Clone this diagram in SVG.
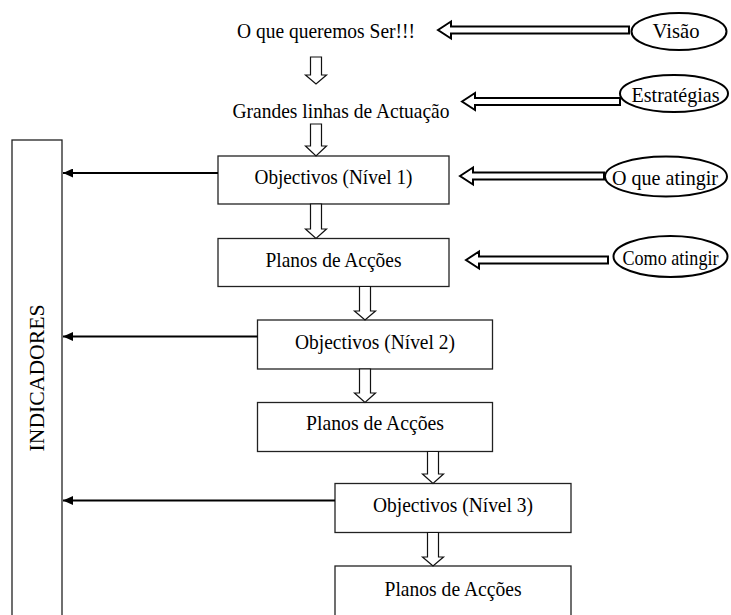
<svg xmlns="http://www.w3.org/2000/svg" width="731" height="615" viewBox="0 0 731 615">
  <defs>
    <style>
      .lbl { font-family: "Liberation Serif", "Times New Roman", serif; font-size: 22px; fill: #000; text-anchor: middle; }
      .small { font-size: 21px; }
      .box { fill: #fff; stroke: #222; stroke-width: 1.3; }
      .oval { fill: #fff; stroke: #000; stroke-width: 2; }
      .hollow-down { fill: #fff; stroke: #111; stroke-width: 1.2; stroke-linejoin: miter; }
      .hollow-left { fill: #fff; stroke: #000; stroke-width: 2; stroke-linejoin: miter; }
      .feed { fill: none; stroke: #000; stroke-width: 2; }
    </style>
    <marker id="solid-head" viewBox="0 0 10 9" markerWidth="10" markerHeight="9" markerUnits="userSpaceOnUse" refX="10" refY="4.5" orient="auto">
      <path d="M0,0 L10,4.5 L0,9 Z" fill="#000"/>
    </marker>
  </defs>

  <rect width="731" height="615" fill="#fff"/>

  <!-- side column collecting the indicators -->
  <g id="indicadores">
    <rect class="box" x="12" y="140" width="50" height="490"/>
    <text class="lbl" transform="translate(43.5,378) rotate(-90)" textLength="147" lengthAdjust="spacingAndGlyphs">INDICADORES</text>
  </g>

  <!-- top statements -->
  <g id="ser">
    <text class="lbl" x="326" y="37.5" textLength="178" lengthAdjust="spacingAndGlyphs">O que queremos Ser!!!</text>
  </g>
  <g id="linhas">
    <text class="lbl" x="341" y="117.5" textLength="217" lengthAdjust="spacingAndGlyphs">Grandes linhas de Actuação</text>
  </g>

  <!-- level boxes -->
  <g id="obj1">
    <rect class="box" x="218" y="156" width="231" height="48"/>
    <text class="lbl" x="333.5" y="184" textLength="158" lengthAdjust="spacingAndGlyphs">Objectivos (Nível 1)</text>
  </g>
  <g id="planos1">
    <rect class="box" x="218" y="238.5" width="231" height="48"/>
    <text class="lbl" x="333.5" y="266.5" textLength="136" lengthAdjust="spacingAndGlyphs">Planos de Acções</text>
  </g>
  <g id="obj2">
    <rect class="box" x="257.5" y="320" width="235" height="49"/>
    <text class="lbl" x="375" y="348.5" textLength="160" lengthAdjust="spacingAndGlyphs">Objectivos (Nível 2)</text>
  </g>
  <g id="planos2">
    <rect class="box" x="257.5" y="402.5" width="235" height="49"/>
    <text class="lbl" x="375" y="430" textLength="138" lengthAdjust="spacingAndGlyphs">Planos de Acções</text>
  </g>
  <g id="obj3">
    <rect class="box" x="335" y="483.5" width="236" height="49"/>
    <text class="lbl" x="453" y="512" textLength="160" lengthAdjust="spacingAndGlyphs">Objectivos (Nível 3)</text>
  </g>
  <g id="planos3">
    <rect class="box" x="335" y="566" width="236" height="60"/>
    <text class="lbl" x="453" y="595.5" textLength="137" lengthAdjust="spacingAndGlyphs">Planos de Acções</text>
  </g>

  <!-- ovals on the right -->
  <g id="visao">
    <ellipse class="oval" cx="679" cy="31.5" rx="47.5" ry="18.5"/>
    <text class="lbl" x="676" y="37.5" textLength="47" lengthAdjust="spacingAndGlyphs">Visão</text>
  </g>
  <g id="estrategias">
    <ellipse class="oval" cx="674" cy="93.5" rx="54" ry="18.5"/>
    <text class="lbl" x="675.5" y="101.5" textLength="88" lengthAdjust="spacingAndGlyphs">Estratégias</text>
  </g>
  <g id="oque">
    <ellipse class="oval" cx="666" cy="176.5" rx="61" ry="20"/>
    <text class="lbl" x="665" y="184.5" textLength="106" lengthAdjust="spacingAndGlyphs">O que atingir</text>
  </g>
  <g id="como">
    <ellipse class="oval" cx="670.5" cy="256.5" rx="57" ry="20.5"/>
    <text class="lbl small" x="670.5" y="265" textLength="96" lengthAdjust="spacingAndGlyphs">Como atingir</text>
  </g>

  <g id="connectors">
    <!-- hollow downward flow arrows -->
    <path class="hollow-down" d="M310.5,57 H321.5 V75 H326.5 L316,84 L305.5,75 H310.5 Z"/>
    <path class="hollow-down" d="M310.5,124 H321.5 V146 H326.5 L316,156 L305.5,146 H310.5 Z"/>
    <path class="hollow-down" d="M310.5,204 H321.5 V229 H326.5 L316,238.5 L305.5,229 H310.5 Z"/>
    <path class="hollow-down" d="M359.5,286.5 H370.5 V311 H375.5 L365,320 L354.5,311 H359.5 Z"/>
    <path class="hollow-down" d="M359.5,369 H370.5 V393 H375.5 L365,402.5 L354.5,393 H359.5 Z"/>
    <path class="hollow-down" d="M427.5,451.5 H438.5 V474 H443.5 L433,483.5 L422.5,474 H427.5 Z"/>
    <path class="hollow-down" d="M427.5,532.5 H438.5 V557 H443.5 L433,566 L422.5,557 H427.5 Z"/>

    <!-- hollow leftward arrows from the ovals -->
    <path class="hollow-left" d="M438,30 L451,21.5 V26.5 H629 V33.5 H451 V38.5 Z"/>
    <path class="hollow-left" d="M462,101.5 L475,93 V98 H620 V105 H475 V110 Z"/>
    <path class="hollow-left" d="M460,176 L473,167.5 V172.5 H604 V179.5 H473 V184.5 Z"/>
    <path class="hollow-left" d="M466,260 L479,251.5 V256.5 H608 V263.5 H479 V268.5 Z"/>

    <!-- objectives feeding the indicators -->
    <path class="feed" d="M218,173 H63" marker-end="url(#solid-head)"/>
    <path class="feed" d="M257.5,336.5 H63" marker-end="url(#solid-head)"/>
    <path class="feed" d="M335,500.5 H63" marker-end="url(#solid-head)"/>
  </g>
</svg>
